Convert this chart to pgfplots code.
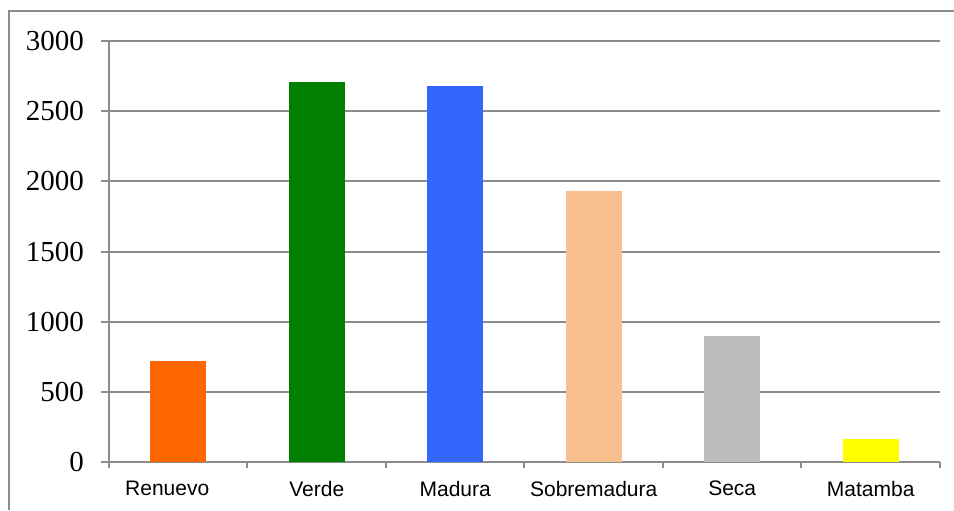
\documentclass[border=0pt]{standalone}
\usepackage{pgfplots}
\pgfplotsset{compat=1.18}
\usepackage{fontspec}
\setmainfont{Liberation Serif}
\newfontfamily\arialf{Liberation Sans}
\definecolor{cO}{HTML}{FF6600}
\definecolor{cG}{HTML}{007F00}
\definecolor{cB}{HTML}{3366FF}
\definecolor{cP}{HTML}{F9C08F}
\definecolor{cS}{HTML}{BDBDBD}
\definecolor{cY}{HTML}{FFFF00}
\definecolor{gridc}{HTML}{8C8C8C}
\begin{document}
\begin{tikzpicture}
\path[use as bounding box] (0,0) rectangle (477pt,255pt);
\draw[gridc, line width=0.9pt] (4.5pt,0) -- (4.5pt,249.5pt) -- (477pt,249.5pt);
\begin{axis}[
  at={(54.5pt,24pt)}, anchor=south west,
  scale only axis, width=415.5pt, height=210.5pt,
  xmin=-0.5, xmax=5.5, ymin=0, ymax=3000,
  axis x line=bottom, axis y line=left,
  axis line style={gridc, line width=1pt, -},
  ytick={0,500,...,3000},
  ymajorgrids, grid style={gridc, line width=1pt},
  xtick={0,1,2,3,4,5},
  xticklabels={\hspace*{-11pt}Renuevo,Verde,Madura,Sobremadura,Seca,Matamba},
  minor xtick={-0.5,0.5,1.5,2.5,3.5,4.5,5.5},
  tick align=outside,
  major x tick style={draw=none},
  minor tick style={gridc, line width=1pt},
  minor tick length=3pt,
  major tick length=4pt,
  y tick style={gridc, line width=1pt},
  xticklabel style={font=\arialf\fontsize{10.5}{12}\selectfont, yshift=-2pt},
  yticklabel style={font=\fontsize{14.5}{16}\selectfont, xshift=-5pt},
  /pgf/number format/assume math mode=true,
  /pgf/number format/1000 sep={},
  scaled y ticks=false,
  ybar, bar width=28pt, bar shift=0pt,
]
\addplot[fill=cO, draw=none] coordinates {(0,718)};
\addplot[fill=cG, draw=none] coordinates {(1,2706)};
\addplot[fill=cB, draw=none] coordinates {(2,2678)};
\addplot[fill=cP, draw=none] coordinates {(3,1929)};
\addplot[fill=cS, draw=none] coordinates {(4,896)};
\addplot[fill=cY, draw=none] coordinates {(5,162)};
\end{axis}
\end{tikzpicture}
\end{document}
